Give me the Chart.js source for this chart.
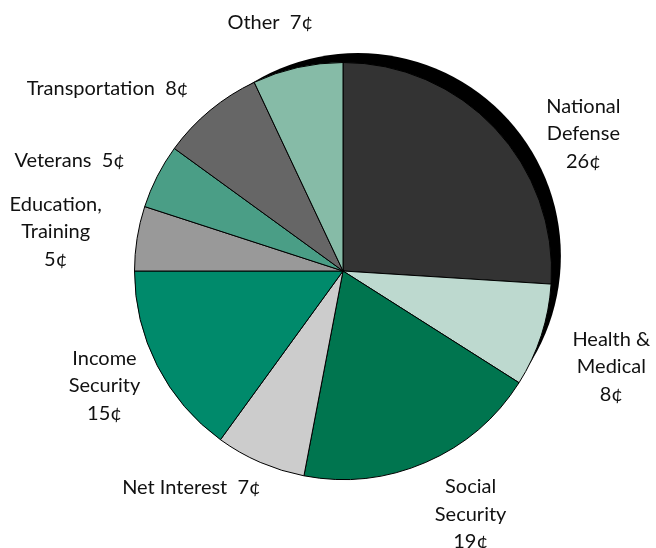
<!DOCTYPE html>
<html>
<head>
<meta charset="utf-8">
<style>
  html, body { margin: 0; padding: 0; background: #fff; }
  #wrap { width: 656px; height: 548px; }
</style>
<script src="https://cdn.jsdelivr.net/npm/chart.js@4.4.1/dist/chart.umd.min.js"></script>
</head>
<body>
<div id="wrap"><canvas id="budgetPie" width="656" height="548"></canvas></div>
<script>
// Where each federal dollar goes (cents per dollar)
const categories = ['National\nDefense', 'Health &\nMedical', 'Social\nSecurity', 'Net Interest',
    'Income\nSecurity', 'Education,\nTraining', 'Veterans', 'Transportation', 'Other'];
const cents = [26, 8, 19, 7, 15, 5, 5, 8, 7];
const sliceColors = ['#333333', '#bdd9cf', '#00754f', '#cccccc', '#008a6b',
    '#999999', '#4a9e86', '#666666', '#86bba7'];

// label block centres, in pie radii from the pie centre
const labelSpots = [
    [1.153, -0.658], [1.287, 0.459], [0.612, 1.167], [-0.727, 1.038], [-1.144, 0.550],
    [-1.378, -0.187], [-1.311, -0.531], [-1.129, -0.876], [-0.349, -1.191]
];

function labelLines(i) {
    const name = categories[i];
    const val = cents[i] + '\u00a2';
    if (name.includes('\n')) return name.split('\n').concat([val]);
    return [name + '  ' + val];
}

// black offset disc peeking out behind the upper right of the pie
const pieShadow = {
    id: 'pieShadow',
    beforeDatasetsDraw(chart) {
        const arc = chart.getDatasetMeta(0).data[0];
        if (!arc) return;
        const R = arc.outerRadius;
        const ctx = chart.ctx;
        ctx.save();
        ctx.fillStyle = '#000';
        ctx.beginPath();
        ctx.arc(arc.x + R * 0.072, arc.y - R * 0.072, R * 0.973, 0, Math.PI * 2);
        ctx.fill();
        ctx.restore();
    }
};

const sliceLabels = {
    id: 'sliceLabels',
    afterDatasetsDraw(chart) {
        const arcs = chart.getDatasetMeta(0).data;
        const ctx = chart.ctx;
        const lineH = 27.5;
        ctx.save();
        ctx.font = '20px Lato, "Noto Sans", sans-serif';
        ctx.fillStyle = '#111';
        ctx.textAlign = 'center';
        ctx.textBaseline = 'middle';
        arcs.forEach((arc, i) => {
            const R = arc.outerRadius;
            const lines = labelLines(i);
            const cx = arc.x + labelSpots[i][0] * R;
            const cy = arc.y + labelSpots[i][1] * R;
            const top = cy - (lines.length - 1) * lineH / 2;
            lines.forEach((t, k) => ctx.fillText(t, cx, top + k * lineH));
        });
        ctx.restore();
    }
};

new Chart(document.getElementById('budgetPie'), {
    type: 'pie',
    data: {
        labels: categories,
        datasets: [{
            data: cents,
            backgroundColor: sliceColors,
            borderColor: '#000',
            borderWidth: 1
        }]
    },
    options: {
        responsive: false,
        animation: false,
        layout: { padding: { left: 134, right: 104, top: 62, bottom: 68 } },
        plugins: {
            legend: { display: false },
            tooltip: { enabled: false }
        }
    },
    plugins: [pieShadow, sliceLabels]
});
</script>
</body>
</html>
